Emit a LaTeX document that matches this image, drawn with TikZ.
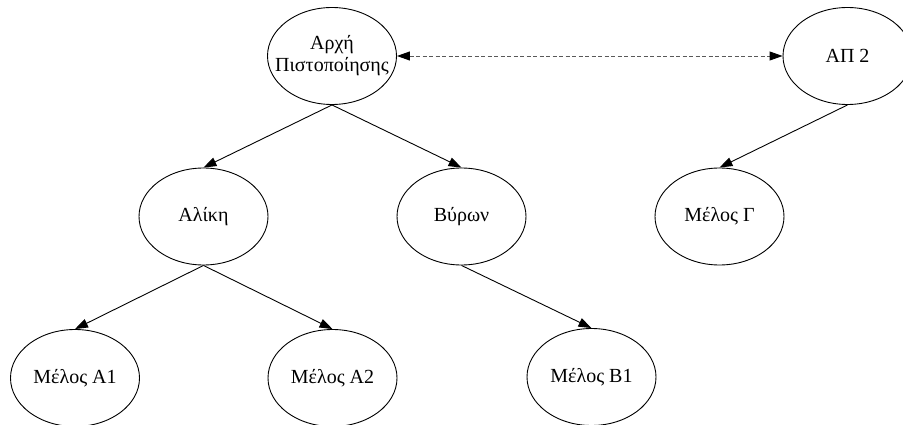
\documentclass[tikz,border=0pt]{standalone}
\usepackage{fontspec}
\setmainfont{Liberation Serif}
\usetikzlibrary{arrows.meta,shapes.geometric}
\begin{document}
\begin{tikzpicture}[x=1pt,y=-1pt,
  nd/.style={draw=black, line width=0.9pt, ellipse, minimum width=129pt, minimum height=97pt, inner sep=0pt,
    label={[align=center, font=\fontsize{20}{22}\selectfont, inner sep=0pt]center:#1}},
  edge/.style={draw=black, line width=0.9pt, -{Triangle[length=13pt,width=9pt]}},
  dedge/.style={draw=black!65, line width=0.9pt, dash pattern=on 4pt off 2.5pt, {Triangle[length=13pt,width=9pt,fill=black,color=black]}-{Triangle[length=13pt,width=9pt,fill=black,color=black]}}
]
\useasboundingbox (0,0) rectangle (903,425);
\node[nd={Αρχή\\Πιστοποίησης}] (root) at (332,56) {};
\node[nd={ΑΠ 2}] (ap2) at (847.5,56) {};
\node[nd={Αλίκη}] (alice) at (203.5,216.5) {};
\node[nd={Βύρων}] (byron) at (461.5,216.5) {};
\node[nd={Μέλος Γ}] (mg) at (719.5,216.5) {};
\node[nd={Μέλος Α1}] (a1) at (75,378) {};
\node[nd={Μέλος Α2}] (a2) at (332.5,378) {};
\node[nd={Μέλος Β1}] (b1) at (591.5,377) {};
\draw[edge] (root.south) -- (alice.north);
\draw[edge] (root.south) -- (byron.north);
\draw[edge] (ap2.south) -- (mg.north);
\draw[edge] (alice.south) -- (a1.north);
\draw[edge] (alice.south) -- (a2.north);
\draw[edge] (byron.south) -- (b1.north);
\draw[dedge] (root.east) -- (ap2.west);
\end{tikzpicture}
\end{document}
